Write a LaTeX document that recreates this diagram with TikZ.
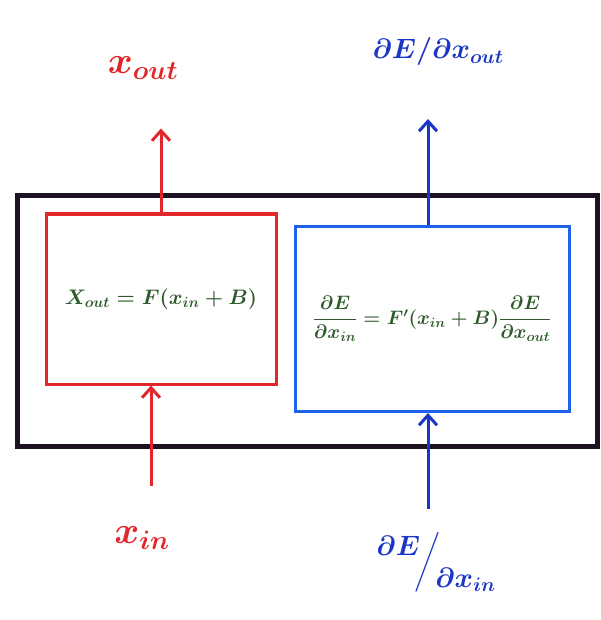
\RequirePackage{fix-cm}
\documentclass[tikz,border=0pt]{standalone}
\usepackage{amsmath}
\usetikzlibrary{arrows.meta,positioning}
\definecolor{cfwd}{HTML}{E3262A}
\definecolor{cbwd}{HTML}{1F62EA}
\definecolor{cbtxt}{HTML}{1B36C6}
\definecolor{ceq}{HTML}{2E5A2A}
\definecolor{cframe}{HTML}{1C1222}
\tikzset{
  layer/.style={draw=cframe, line width=5pt, minimum width=580pt, minimum height=250pt},
  fbox/.style={draw=cfwd, line width=3pt, minimum width=230pt, minimum height=170pt, text=ceq, font=\fontsize{21}{25}\selectfont\boldmath},
  bbox/.style={draw=cbwd, line width=3pt, minimum width=274pt, minimum height=185pt, text=ceq, font=\fontsize{19.5}{24}\selectfont\boldmath},
  fwd/.style={-{Straight Barb[length=10pt,width=18pt]}, line width=3pt, draw=cfwd},
  bwd/.style={-{Straight Barb[length=10pt,width=18pt]}, line width=3pt, draw=cbtxt},
  flbl/.style={text=cfwd, font=\fontsize{38}{42}\selectfont\boldmath},
  blbl/.style={text=cbtxt, font=\fontsize{28}{32}\selectfont\boldmath},
}
\begin{document}
\begin{tikzpicture}[x=1pt,y=-1pt]
\useasboundingbox (0,0) rectangle (601,620);
% the layer and its two passes
\node[layer] (layer) at (307,321) {};
\node[fbox] (fprop) at (161,299) {$X_{out}=F(x_{in}+B)$};
\node[bbox] (bprop) at (432,319) {$\dfrac{\partial E}{\partial x_{in}}=F'(x_{in}+B)\dfrac{\partial E}{\partial x_{out}}$};
% inputs and outputs
\node[flbl] (xout) at (143,68) {$x_{out}$};
\node[blbl] (dout) at (438,52) {$\partial E/\partial x_{out}$};
\node[flbl] (xin) at (142,538) {$x_{in}$};
\node[blbl] (din) at (436,562) {$\raisebox{14pt}{$\partial E$}\!\Big/\!\raisebox{-18pt}{$\partial x_{in}$}$};
\draw[fwd] (fprop.north) -- ([yshift=84pt]fprop.north);
\draw[bwd] ([xshift=-4pt]bprop.north) -- ([xshift=-4pt,yshift=106pt]bprop.north);
\draw[fwd] ([xshift=-10pt,yshift=-100pt]fprop.south) -- ([xshift=-10pt]fprop.south);
\draw[bwd] ([xshift=-4pt,yshift=-96pt]bprop.south) -- ([xshift=-4pt]bprop.south);
\end{tikzpicture}
\end{document}
